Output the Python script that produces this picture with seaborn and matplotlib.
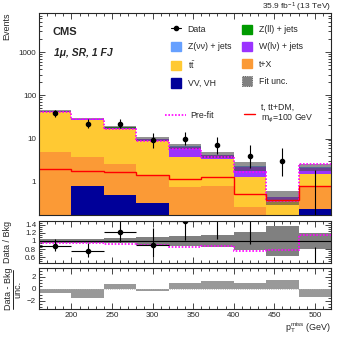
import numpy as np
import pandas as pd
import seaborn as sns
import matplotlib.pyplot as plt
from matplotlib.lines import Line2D
from matplotlib.patches import Patch
from matplotlib.ticker import FuncFormatter, MultipleLocator, LogLocator, FixedLocator

# binning (GeV)
edges = [160, 200, 240, 280, 320, 360, 400, 440, 480, 520]

# post-fit background yields per bin
vv = [0, 0.81, 0.49, 0.33, 0, 0, 0, 0, 0.23]
tx = [4.8, 2.85, 2.11, 1.05, 0.74, 0.8, 0.26, 0.12, 0.57]
ttbar = [35.2, 23.3, 14.0, 7.3, 3.06, 2.6, 1.04, 0.26, 0.7]
wlv = [2.6, 1.8, 1.2, 1.1, 2.6, 0.7, 0.9, 0.06, 0.6]
zvv = [0.3, 0.2, 0.15, 0.15, 0.25, 0.1, 0.08, 0.01, 0.08]
zll = [0.02, 0.02, 0.02, 0.01, 0.02, 0.01, 0.01, 0.0, 0.01]

# relative fit uncertainty, pre-fit / post-fit ratio
fit_unc = [0.05, 0.05, 0.06, 0.1, 0.13, 0.15, 0.22, 0.36, 0.2]
prefit_ratio = [0.95, 0.95, 0.93, 0.9, 0.86, 0.88, 0.74, 0.78, 1.15]

# signal t, tt+DM (m_phi = 100 GeV)
signal = [1.93, 1.76, 1.67, 1.4, 1.13, 1.26, 0.52, 0.38, 0.8]

# data with asymmetric poisson errors
data = [38, 22, 22, 9, 10, 7, 4, 3, 0]
data_lo = [6.13, 4.66, 4.66, 2.94, 3.11, 2.58, 1.91, 1.63, 0]
data_hi = [7.21, 5.76, 5.76, 4.11, 4.26, 3.77, 3.16, 2.92, 1.84]

# (data - bkg) / unc.
pull = [-0.7, -1.6, 0.85, -0.4, 1.0, 1.3, 0.9, 1.5, -1.3]

procs = ["Z(ll) + jets", "Z(νν) + jets", "W(lν) + jets", r"t$\bar{\rm t}$", "t+X", "VV, VH"]
colors = {"Z(ll) + jets": "#009a00", "Z(νν) + jets": "#66a0ff", "W(lν) + jets": "#9b33ff",
          r"t$\bar{\rm t}$": "#ffc933", "t+X": "#fb9a36", "VV, VH": "#000099"}

sns.set_style("ticks")
plt.rcParams["font.family"] = ["Liberation Sans", "DejaVu Sans"]
plt.rcParams["mathtext.fontset"] = "custom"
plt.rcParams["mathtext.rm"] = "Liberation Sans"
plt.rcParams["mathtext.it"] = "Liberation Sans:italic"
plt.rcParams["mathtext.bf"] = "Liberation Sans:bold"

edges_a = np.array(edges, dtype=float)
centers = 0.5 * (edges_a[1:] + edges_a[:-1])
total = np.array(vv) + np.array(tx) + np.array(ttbar) + np.array(wlv) + np.array(zvv) + np.array(zll)
unc = np.array(fit_unc)

rows = []
for name, vals in zip(procs, [zll, zvv, wlv, ttbar, tx, vv]):
    for c, v in zip(centers, vals):
        rows.append({"pt": c, "proc": name, "y": v})
df = pd.DataFrame(rows)

W, H = 349, 338
fig = plt.figure(figsize=(W / 100, H / 100), dpi=100)

def box(x0, y0, x1, y1):
    return [x0 / W, 1 - y1 / H, (x1 - x0) / W, (y1 - y0) / H]

ax = fig.add_axes(box(39, 13, 331, 215))
axr = fig.add_axes(box(39, 220.5, 331, 262.5))
axp = fig.add_axes(box(39, 268, 331, 309))

# main panel
sns.histplot(data=df, x="pt", weights="y", hue="proc", hue_order=procs, palette=colors,
             multiple="stack", bins=edges, element="step", alpha=1, linewidth=0,
             legend=False, ax=ax)
ax.set_yscale("log")
ax.stairs(total * (1 + unc), edges, baseline=total * (1 - unc), fill=True,
          color="#4a4a4a", alpha=0.6, lw=0)
ax.stairs(total * np.array(prefit_ratio), edges, baseline=None, color="#ff00ff", lw=1.2, ls=(0, (1, 1)))
ax.stairs(signal, edges, baseline=None, color="#ff0000", lw=1.0)
ax.errorbar(centers, data, yerr=[data_lo, data_hi], fmt="o", color="k", ms=3, elinewidth=0.8, capsize=0)
ax.set_ylim(0.17, 8000)
ax.set_xlim(160, 520)
ax.yaxis.set_major_locator(LogLocator(base=10))
ax.yaxis.set_minor_locator(LogLocator(base=10, subs=np.arange(2, 10)))
ax.yaxis.set_major_formatter(FuncFormatter(lambda v, p: "%g" % v))
ax.yaxis.set_minor_formatter(FuncFormatter(lambda v, p: ""))

# ratio panel
axr.stairs(1 + unc, edges, baseline=1 - unc, fill=True, color="#808080", lw=0)
axr.axhline(1, color="k", lw=0.8)
axr.stairs(prefit_ratio, edges, baseline=None, color="#ff00ff", lw=1.2, ls=(0, (1, 1)))
ratio = np.array(data) / total
axr.errorbar(centers, ratio, xerr=20, yerr=[np.array(data_lo) / total, np.array(data_hi) / total],
             fmt="o", color="k", ms=3, elinewidth=0.8, capsize=0)
axr.set_ylim(0.47, 1.5)
axr.set_xlim(160, 520)
axr.yaxis.set_major_locator(FixedLocator([0.6, 0.8, 1.0, 1.2, 1.4]))
axr.yaxis.set_major_formatter(FuncFormatter(lambda v, p: "%g" % round(v, 1)))
axr.yaxis.set_minor_locator(MultipleLocator(0.05))

# pull panel
axp.stairs(pull, edges, baseline=0, fill=True, color="#999999", lw=0)
axp.axhline(0, color="#aaaaaa", lw=0.6, ls=":")
axp.set_ylim(-3.4, 3.5)
axp.set_xlim(160, 520)
axp.yaxis.set_major_locator(FixedLocator([-2, 0, 2]))
axp.yaxis.set_minor_locator(MultipleLocator(0.5))

for a in (ax, axr, axp):
    a.xaxis.set_major_locator(MultipleLocator(50))
    a.xaxis.set_minor_locator(MultipleLocator(10))
    a.tick_params(which="both", direction="in", top=True, right=True, labelsize=5.8, width=0.6, pad=2)
    a.tick_params(which="major", length=4)
    a.tick_params(which="minor", length=2)
    for s in a.spines.values():
        s.set_linewidth(0.8)
    a.set_xlabel("")
    a.set_ylabel("")
ax.tick_params(labelbottom=False)
axr.tick_params(labelbottom=False)

# legends
handles = [
    Line2D([], [], color="k", marker="o", ms=3, lw=0.8),
    Patch(color=colors["Z(νν) + jets"]),
    Patch(color=colors[r"t$\bar{\rm t}$"]),
    Patch(color=colors["VV, VH"]),
    Patch(color=colors["Z(ll) + jets"]),
    Patch(color=colors["W(lν) + jets"]),
    Patch(color=colors["t+X"]),
    Patch(facecolor="#808080", edgecolor="#444444", ls=":", lw=0.6),
]
labels = ["Data", "Z(νν) + jets", r"t$\bar{\rm t}$", "VV, VH",
          "Z(ll) + jets", "W(lν) + jets", "t+X", "Fit unc."]
leg = ax.legend(handles, labels, ncol=2, loc="upper left", bbox_to_anchor=(0.44, 0.96),
                frameon=False, fontsize=6.3, handlelength=1.1, handleheight=1.3,
                labelspacing=0.85, columnspacing=1.3, handletextpad=0.8, borderaxespad=0)
ax.add_artist(leg)
leg_pre = ax.legend([Line2D([], [], color="#ff00ff", lw=1.2, ls=(0, (1, 1)))], ["Pre-fit"],
                    loc="upper left", bbox_to_anchor=(0.42, 0.53), frameon=False, fontsize=6.3,
                    handlelength=2.4, handletextpad=0.45, borderaxespad=0)
ax.add_artist(leg_pre)
ax.legend([Line2D([], [], color="#ff0000", lw=1.0)], ["t, tt+DM,\nm$_{\\phi}$=100 GeV"],
          loc="upper left", bbox_to_anchor=(0.69, 0.575), frameon=False, fontsize=6.3,
          handlelength=1.3, handletextpad=0.7, borderaxespad=0)

# texts
ax.text(0.045, 0.905, "CMS", transform=ax.transAxes, fontsize=8, fontweight="bold", va="center")
ax.text(0.05, 0.8, "1μ, SR, 1 FJ", transform=ax.transAxes, fontsize=7.5,
        fontweight="bold", fontstyle="italic", va="center")
fig.text(331 / W, 1 - 9.5 / H, "35.9 fb$^{-1}$ (13 TeV)", ha="right", va="baseline", fontsize=6)
fig.text(7 / W, 1 - 13 / H, "Events", rotation=90, ha="center", va="top", fontsize=6.5)
fig.text(7 / W, 1 - 242 / H, "Data / Bkg", rotation=90, ha="center", va="center", fontsize=6.5)
fig.text(8.5 / W, 1 - 289 / H, "Data - Bkg", rotation=90, ha="center", va="center", fontsize=6.5)
fig.text(17.5 / W, 1 - 289 / H, "unc.", rotation=90, ha="center", va="center", fontsize=6.5)
fig.add_artist(Line2D([12.8 / W, 12.8 / W], [1 - 270 / H, 1 - 309 / H], color="k", lw=0.6))
fig.text(331 / W, 1 - 335 / H, "p$_{\\rm T}^{\\rm miss}$ (GeV)", ha="right", va="bottom", fontsize=6.5)

fig.savefig("out.png", dpi=100)
